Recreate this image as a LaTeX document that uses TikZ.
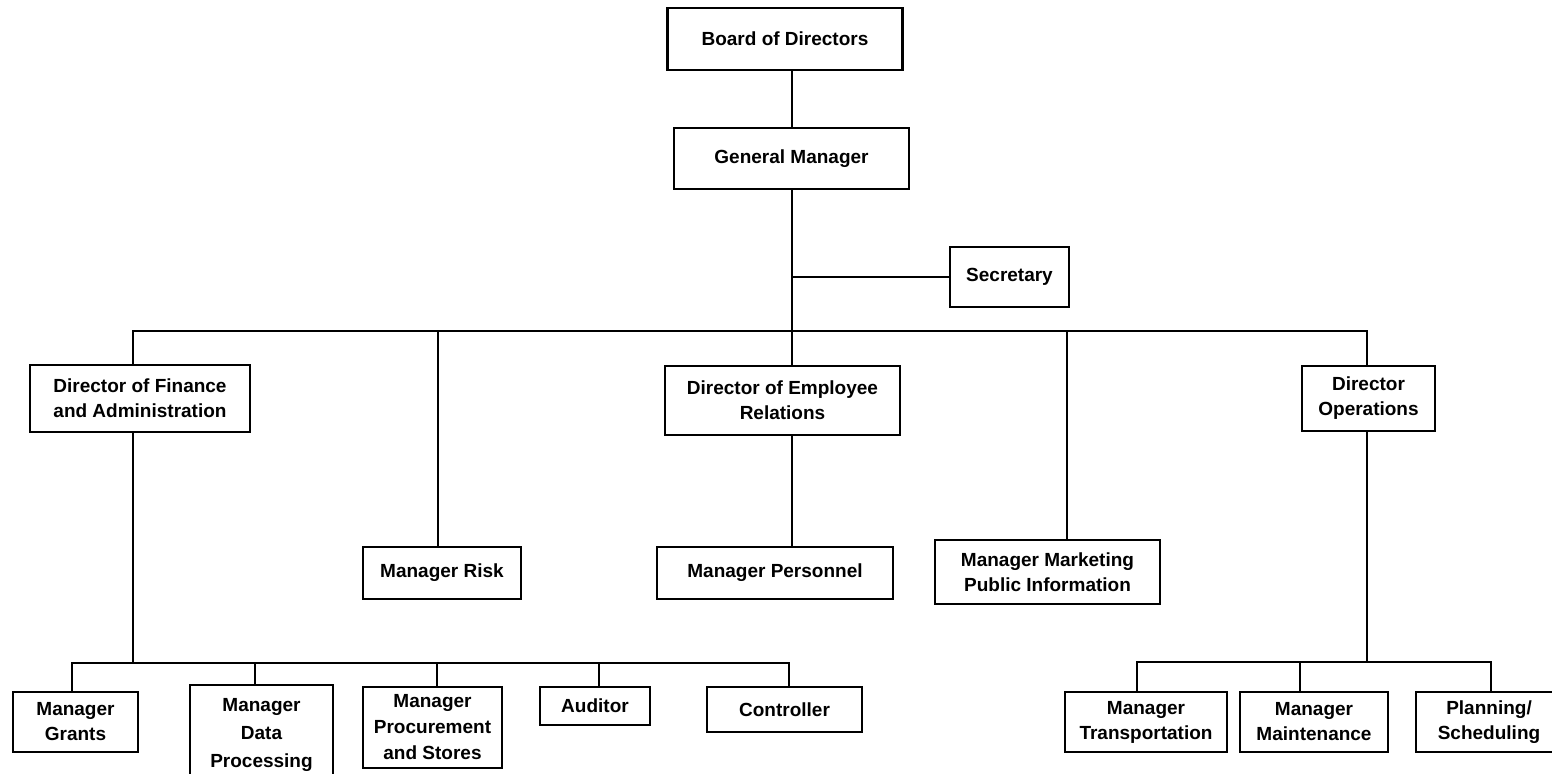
\documentclass[tikz,border=0pt]{standalone}
\usepackage{fontspec}
\setmainfont{Liberation Sans}

\tikzset{
  post/.style={draw, line width=1.2pt, align=center, inner sep=2pt,
    font=\bfseries\fontsize{9.5}{12.5}\selectfont},
  link/.style={line width=1.3pt}
}

\begin{document}
\begin{tikzpicture}[x=0.5pt,y=-0.5pt]
        \path[use as bounding box, clip] (0,0) rectangle (1552,774);

        % top of the chart
        \node[post, minimum width=117.5pt, minimum height=31pt] (bod) at (785,39) {Board of Directors};
        \node[post, minimum width=117.5pt, minimum height=30.5pt] (gm) at (791.5,158.5) {General Manager};
        \node[post, minimum width=59.5pt, minimum height=30pt] (sec) at (1009.5,277) {Secretary};

        % directors and managers under the general manager
        \node[post, minimum width=110pt, minimum height=33.5pt] (dfa) at (140,398.5) {Director of Finance\\and Administration};
        \node[post, minimum width=117.5pt, minimum height=34.5pt] (der) at (782.5,400.5) {Director of Employee\\Relations};
        \node[post, minimum width=66.5pt, minimum height=32.5pt] (dops) at (1368.5,398.5) {Director\\Operations};
        \node[post, minimum width=79pt, minimum height=26pt] (risk) at (442,573) {Manager Risk};
        \node[post, minimum width=118pt, minimum height=26pt] (pers) at (775,573) {Manager Personnel};
        \node[post, minimum width=112.5pt, minimum height=32pt] (mkt) at (1047.5,572) {Manager Marketing\\Public Information};

        % finance and administration
        \node[post, minimum width=62.5pt, minimum height=30pt] (grants) at (75.5,722) {Manager\\Grants};
        \node[post, minimum width=71.5pt, minimum height=50pt, font=\bfseries\fontsize{9.5}{14}\selectfont] (dp) at (261.5,735) {Manager\\Data\\Processing};
        \node[post, minimum width=69.5pt, minimum height=40.5pt, font=\bfseries\fontsize{9.5}{13}\selectfont] (proc) at (432.5,727.5) {Manager\\Procurement\\and Stores};
        \node[post, minimum width=55pt, minimum height=19pt] (aud) at (595,706) {Auditor};
        \node[post, minimum width=77.5pt, minimum height=22.5pt] (ctrl) at (784.5,709.5) {Controller};

        % operations
        \node[post, minimum width=81pt, minimum height=30pt] (trans) at (1146,722) {Manager\\Transportation};
        \node[post, minimum width=74pt, minimum height=30pt] (maint) at (1314,722) {Manager\\Maintenance};
        \node[post, minimum width=84pt, minimum height=30pt] (plan) at (1500,722) {Planning/\hspace*{11pt}\\Scheduling\hspace*{11pt}};

        % junctions
        \coordinate (spine) at (792,331);
        \coordinate (secj) at (792,277);
        \coordinate (j1) at (133,331);
        \coordinate (j2) at (438,331);
        \coordinate (j4) at (1067,331);
        \coordinate (j5) at (1367,331);
        \coordinate (fb1) at (72,663);
        \coordinate (fb2) at (255,663);
        \coordinate (fb3) at (437,663);
        \coordinate (fb4) at (599,663);
        \coordinate (fb5) at (789,663);
        \coordinate (fbj) at (133,663);
        \coordinate (ob1) at (1137,662);
        \coordinate (ob2) at (1300,662);
        \coordinate (ob3) at (1491,662);
        \coordinate (obj) at (1367,662);

        % connectors
        \draw[link] (bod.south -| spine) -- (gm.north -| spine);
        \draw[link] (gm.south -| spine) -- (spine);
        \draw[link] (secj) -- (sec.west);
        \draw[link] (j1 |- dfa.north) -- (j1) -- (j5) -- (j5 |- dops.north);
        \foreach \j/\n in {j2/risk, spine/der, j4/mkt}
            \draw[link] (\j) -- (\j |- \n.north);
        \draw[link] (der.south -| spine) -- (pers.north -| spine);

        \draw[link] (dfa.south -| fbj) -- (fbj);
        \draw[link] (fb1 |- grants.north) -- (fb1) -- (fb5) -- (fb5 |- ctrl.north);
        \foreach \j/\n in {fb2/dp, fb3/proc, fb4/aud}
            \draw[link] (\j) -- (\j |- \n.north);

        \draw[link] (dops.south -| obj) -- (obj);
        \draw[link] (ob1 |- trans.north) -- (ob1) -- (ob3) -- (ob3 |- plan.north);
        \draw[link] (ob2) -- (ob2 |- maint.north);
    \end{tikzpicture}
\end{document}
